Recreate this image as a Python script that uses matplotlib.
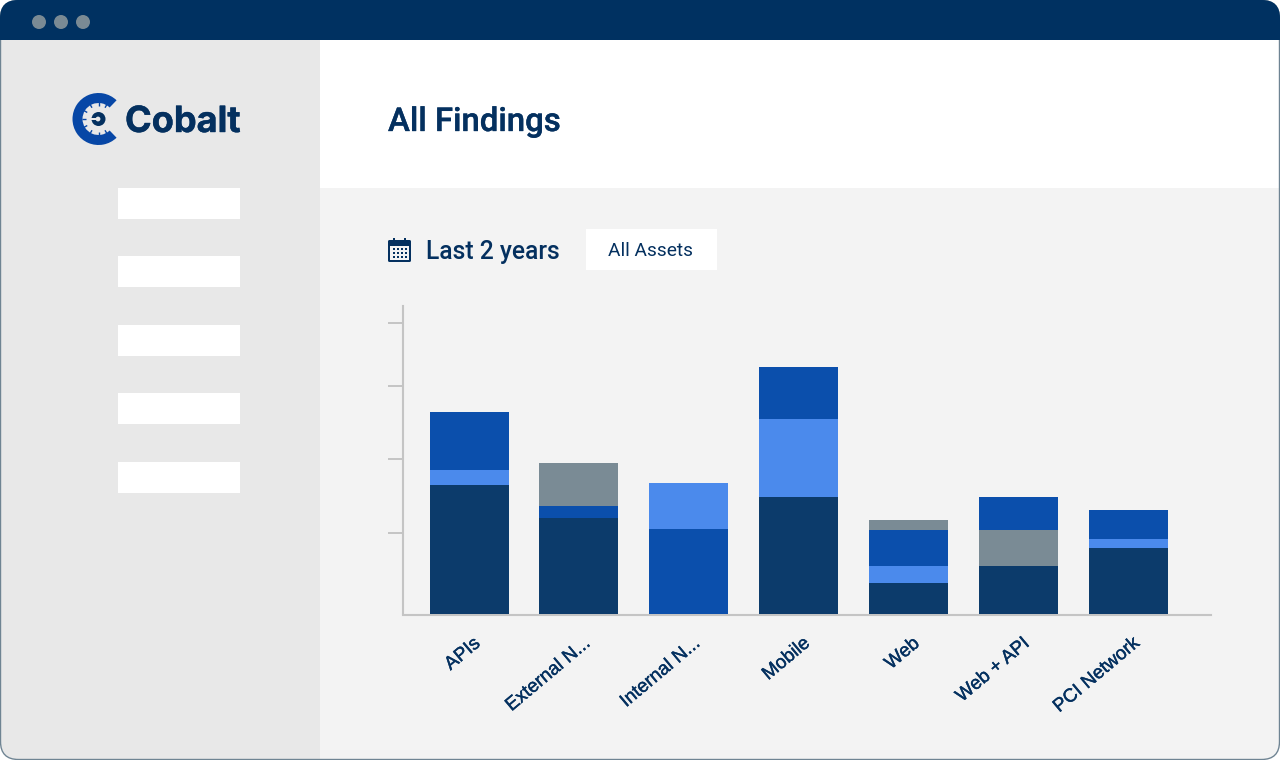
import numpy as np
import matplotlib
matplotlib.use("Agg")
import matplotlib.pyplot as plt
import matplotlib.patheffects as pe
from matplotlib.patches import Rectangle, Circle, Wedge, FancyBboxPatch

# ---- data ----
categories = ["APIs", "External N...", "Internal N...", "Mobile", "Web", "Web + API", "PCI Network"]
segment_1 = [129, 96, 85, 117, 31, 48, 66]
segment_2 = [15, 12, 46, 78, 17, 36, 9]
segment_3 = [58, 43, 0, 52, 36, 33, 29]
segment_4 = [0, 0, 0, 0, 10, 0, 0]
y_ticks = [81, 155, 228, 291]
menu_items = [188, 256, 325, 393, 462]

NAVY, BLUE, LIGHT, GREY = "#0c3b6b", "#0b4fac", "#4b8aec", "#7a8b95"
segment_colors = [
    [NAVY, NAVY, BLUE, NAVY, NAVY, NAVY, NAVY],
    [LIGHT, BLUE, LIGHT, LIGHT, LIGHT, GREY, LIGHT],
    [BLUE, GREY, BLUE, BLUE, BLUE, BLUE, BLUE],
    [GREY, GREY, GREY, GREY, GREY, GREY, GREY],
]
TEXT = "#04305f"
HEADER = "#003161"
AXIS = "#c4c4c4"
PANEL = "#f3f3f3"

fig = plt.figure(figsize=(12.8, 7.6), dpi=100, facecolor="white")

# ---- page furniture, in pixel coordinates ----
bg = fig.add_axes([0, 0, 1, 1])
bg.set_xlim(0, 1280)
bg.set_ylim(760, 0)
bg.axis("off")

window = FancyBboxPatch((1, 1), 1278, 758, boxstyle="round,pad=0,rounding_size=18",
                        facecolor=PANEL, edgecolor="none", zorder=1)
bg.add_patch(window)
for r in [
    Rectangle((0, 0), 1280, 40, facecolor=HEADER, zorder=2),
    Rectangle((0, 40), 320, 720, facecolor="#e8e8e8", zorder=2),
    Rectangle((320, 40), 960, 148, facecolor="white", zorder=2),
]:
    bg.add_patch(r)
    r.set_clip_path(window)
outline = FancyBboxPatch((0.5, 0.5), 1279, 759, boxstyle="round,pad=0,rounding_size=18",
                         facecolor="none", edgecolor="#6f8493", linewidth=1.0, zorder=3)
bg.add_patch(outline)
top = FancyBboxPatch((0, 0), 1280, 60, boxstyle="round,pad=0,rounding_size=18",
                     facecolor=HEADER, edgecolor="none", zorder=3)
bg.add_patch(top)
top.set_clip_path(Rectangle((0, 0), 1280, 40, transform=bg.transData))

for cx in (39, 61, 83):
    bg.add_patch(Circle((cx, 22), 7, facecolor="#7a8a94", edgecolor="none", zorder=4))

for y0 in menu_items:
    bg.add_patch(Rectangle((118, y0), 122, 31.3, facecolor="white", edgecolor="none", zorder=4))

# logo
LOGO = "#0747a6"
bg.add_patch(Wedge((98.5, 119), 26, 46, 314, width=10, facecolor=LOGO, edgecolor="none", zorder=4))
for a in np.deg2rad(np.arange(60, 301, 30)):
    bg.plot([98.5 + 13 * np.cos(a), 98.5 + 17 * np.cos(a)], [119 - 13 * np.sin(a), 119 - 17 * np.sin(a)],
            color=LOGO, lw=1.0, zorder=5, solid_capstyle="butt")
bg.add_patch(Circle((98.5, 119), 7, facecolor=TEXT, edgecolor="none", zorder=5))
bg.add_patch(Circle((98, 119), 2.4, facecolor="#e8e8e8", edgecolor="none", zorder=6))
bg.add_patch(Rectangle((91, 118), 5, 2, facecolor="#e8e8e8", edgecolor="none", zorder=6))
logo = bg.text(125, 119, "Cobalt", family="Inter", fontweight="bold", fontsize=26, color=TEXT,
               va="center_baseline", ha="left", zorder=5)
logo.set_path_effects([pe.withStroke(linewidth=0.3, foreground=TEXT)])

title = bg.text(388, 118.5, "All Findings", family="Roboto", fontweight="medium", fontsize=23.7, color=TEXT,
                va="center_baseline", ha="left", zorder=5)
title.set_path_effects([pe.withStroke(linewidth=0.25, foreground=TEXT)])

# calendar icon
bg.add_patch(FancyBboxPatch((388, 240), 23, 22, boxstyle="round,pad=0,rounding_size=1.5",
                            facecolor=TEXT, edgecolor="none", zorder=5))
bg.add_patch(Rectangle((390, 245.5), 19, 14.5, facecolor=PANEL, edgecolor="none", zorder=6))
for x0 in (393, 404):
    bg.add_patch(Rectangle((x0, 237.5), 2.2, 5, facecolor=TEXT, edgecolor="none", zorder=7))
for gy in (247.5, 251.5, 255.5):
    for gx in (392.5, 396.5, 400.5, 404.5):
        bg.add_patch(Rectangle((gx, gy), 2.2, 2, facecolor=TEXT, edgecolor="none", zorder=7))

bg.text(426, 249, "Last 2 years", family="Roboto", fontweight="medium", fontsize=17.7, color=TEXT,
        va="center_baseline", ha="left", zorder=5)
bg.add_patch(Rectangle((586, 229), 131, 41, facecolor="white", edgecolor="none", zorder=5))
bg.text(651, 249.5, "All Assets", family="Roboto", fontsize=13.8, color=TEXT,
        va="center_baseline", ha="center", zorder=6)

# ---- chart ----
W, H = 1280, 760
ax = fig.add_axes([403 / W, (H - 614) / H, 808 / W, 308 / H])
ax.patch.set_alpha(0)
ax.set_zorder(5)
ax.spines["bottom"].set_position(("outward", 0.7))
step = 109.83
x = np.arange(len(categories))
bottom = np.zeros(len(categories))
for values, colors in zip([segment_1, segment_2, segment_3, segment_4], segment_colors):
    ax.bar(x, values, bottom=bottom, width=79 / step, color=colors, linewidth=0, zorder=3)
    bottom += np.array(values)

ax.set_xlim((403 - 469.1) / step, (1211 - 469.1) / step)
ax.set_ylim(0, 308)
ax.set_yticks(y_ticks)
ax.set_yticklabels([])
ax.tick_params(axis="y", length=10.8, width=1.4, color=AXIS)
ax.tick_params(axis="x", length=0, pad=14.5)
ax.set_xticks(x)
ax.set_xticklabels(categories, rotation=40, ha="right", va="top", rotation_mode="anchor",
                   family="Liberation Sans", fontsize=13.6, color=TEXT)
offset = matplotlib.transforms.ScaledTranslation(3.5 / 100, 0, fig.dpi_scale_trans)
for lbl in ax.get_xticklabels():
    lbl.set_transform(lbl.get_transform() + offset)
    lbl.set_path_effects([pe.withStroke(linewidth=0.3, foreground=TEXT)])
for s in ("top", "right"):
    ax.spines[s].set_visible(False)
for s in ("left", "bottom"):
    ax.spines[s].set_color(AXIS)
    ax.spines[s].set_linewidth(1.5)

fig.savefig("out.png", dpi=100, facecolor="white")
